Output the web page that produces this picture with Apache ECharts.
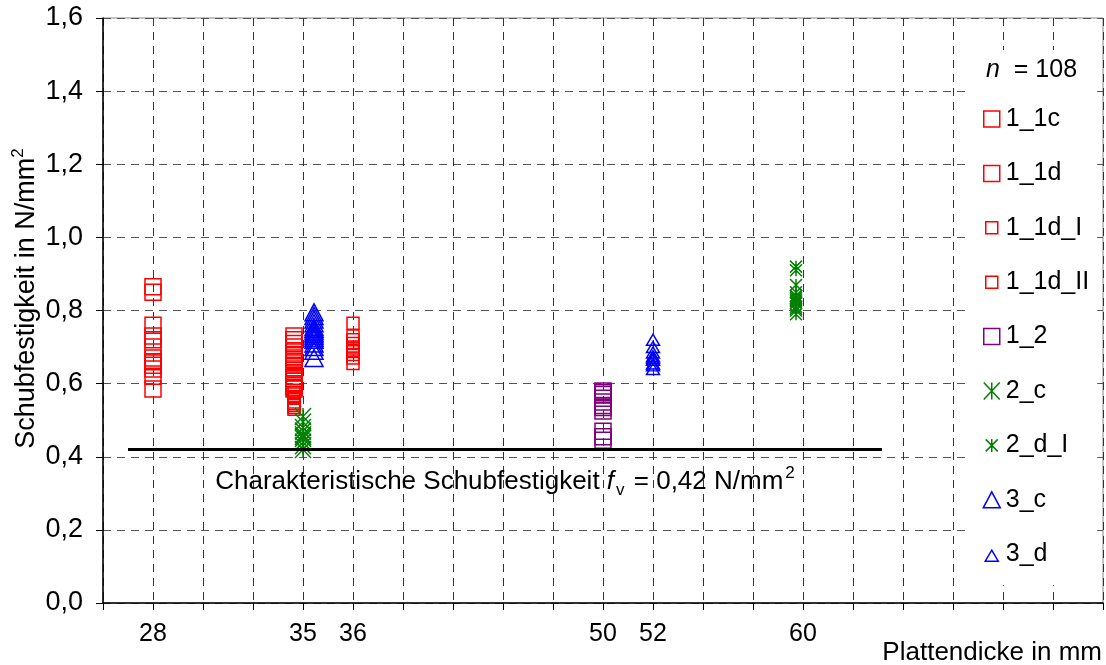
<!DOCTYPE html>
<html><head><meta charset="utf-8">
<script src="https://cdn.jsdelivr.net/npm/echarts@6/dist/echarts.min.js"></script>
<style>html,body{margin:0;padding:0;background:#fff}#c{width:1106px;height:665px}</style>
</head><body><div id="c"></div>
<script>
// ---- data ----
const tickLabels = ['', '28', '', '', '35', '36', '', '', '', '', '50', '52', '', '', '60', '', '', '', '', '', ''];
const yTicks = [0, 0.2, 0.4, 0.6, 0.8, 1.0, 1.2, 1.4, 1.6];
const seriesNames = ['1_1c', '1_1d', '1_1d_I', '1_1d_II', '1_2', '2_c', '2_d_I', '3_c', '3_d'];
const seriesX = [1, 3.82, 3.82, 5, 10, 4, 13.86, 4.22, 11];
const v1_1c = [0.865, 0.85, 0.76, 0.73, 0.72, 0.70, 0.67, 0.66, 0.65, 0.64, 0.62, 0.585];
const v1_1d = [0.73, 0.72, 0.71, 0.70, 0.69, 0.68, 0.67, 0.665, 0.66, 0.65, 0.64, 0.63, 0.62, 0.615, 0.61, 0.60, 0.595, 0.59, 0.585];
const v1_1d_I = [0.575, 0.565, 0.56, 0.55, 0.545, 0.54, 0.535, 0.53];
const v1_1d_II = [0.765, 0.73, 0.72, 0.71, 0.70, 0.695, 0.69, 0.68, 0.67, 0.655];
const v1_2 = [0.58, 0.575, 0.57, 0.56, 0.55, 0.54, 0.535, 0.525, 0.47, 0.455, 0.445];
const v2_c = [0.51, 0.495, 0.48, 0.47, 0.46, 0.455, 0.45, 0.44, 0.43, 0.42];
const v2_d_I = [0.92, 0.91, 0.87, 0.85, 0.84, 0.835, 0.83, 0.825, 0.82, 0.81, 0.805, 0.80, 0.79];
const v3_c = [0.795, 0.785, 0.775, 0.765, 0.755, 0.75, 0.745, 0.74, 0.735, 0.73, 0.725, 0.72, 0.71, 0.70, 0.69, 0.67];
const v3_d = [0.72, 0.70, 0.685, 0.675, 0.67, 0.665, 0.655, 0.65, 0.64];
const sampleSize = 108;
const fvValue = 0.42;
const fvFrom = 0.5;
const fvTo = 15.58;
const valueLists = [v1_1c, v1_1d, v1_1d_I, v1_1d_II, v1_2, v2_c, v2_d_I, v3_c, v3_d];

// ---- styles ----
const FONT = 'Liberation Sans, Arial, sans-serif';
const starPath = 'path://M0,0L16,17M16,0L0,17M8,0L8,17';
const icons = {
  sqBig: 'path://M0,0M18,18M1,1L17,1L17,17L1,17Z',
  sqSmall: 'path://M0,0M18,18M3,3L15,3L15,15L3,15Z',
  triBig: 'path://M0,0M18,18M9,1L17.5,17L0.5,17Z',
  triSmall: 'path://M0,0M18,18M9,5L15.5,16L2.5,16Z',
  starBig: 'path://M0,0M18,18M1,0.5L17,17.5M17,0.5L1,17.5M9,0.5L9,17.5',
  starSmall: 'path://M0,0M18,18M3,3L15,15M15,3L3,15M9,2.5L9,15.5'
};
const styles = [
  { color: '#ff0000', symbol: 'rect', size: 16, icon: icons.sqBig },
  { color: '#ff0000', symbol: 'rect', size: 16, icon: icons.sqBig },
  { color: '#ff0000', symbol: 'rect', size: 12, icon: icons.sqSmall },
  { color: '#ff0000', symbol: 'rect', size: 12, icon: icons.sqSmall },
  { color: '#800080', symbol: 'rect', size: 16, icon: icons.sqBig },
  { color: '#008000', symbol: starPath, size: [16, 17], icon: icons.starBig },
  { color: '#008000', symbol: starPath, size: [12, 12], icon: icons.starSmall },
  { color: '#0000ff', symbol: 'triangle', size: [18, 17], icon: icons.triBig },
  { color: '#0000ff', symbol: 'triangle', size: [13, 11], icon: icons.triSmall }
];

const chart = echarts.init(document.getElementById('c'), null, { renderer: 'canvas' });

const series = [{
  name: 'fv', type: 'line', data: [], silent: true, z: 1,
  markLine: {
    silent: true, symbol: ['none', 'none'],
    lineStyle: { color: '#000', width: 3, type: 'solid' },
    emphasis: { disabled: true },
    label: {
      show: true, position: 'insideMiddleBottom', distance: 15,
      formatter: 'Charakteristische Schubfestigkeit {i|f}{sub|v} = ' + fvValue.toFixed(2).replace('.', ',') + ' N/mm{sup|2}',
      color: '#000', fontSize: 26, fontFamily: FONT, lineHeight: 34,
      rich: {
        i: { fontStyle: 'italic', fontSize: 26, fontFamily: FONT, color: '#000', lineHeight: 34 },
        sub: { fontSize: 17, fontFamily: FONT, color: '#000', verticalAlign: 'bottom', lineHeight: 17, padding: [0, 2, 0, 2] },
        sup: { fontSize: 17, fontFamily: FONT, color: '#000', verticalAlign: 'top', lineHeight: 17, padding: [0, 0, 0, 2] }
      }
    },
    data: [[{ coord: [fvFrom, fvValue] }, { coord: [fvTo, fvValue] }]]
  }
}].concat(seriesNames.map((name, i) => ({
  name, type: 'scatter', z: 3,
  symbol: styles[i].symbol, symbolSize: styles[i].size,
  data: valueLists[i].map(v => [seriesX[i], v]),
  itemStyle: { color: 'rgba(0,0,0,0)', borderColor: styles[i].color, borderWidth: 1.5, opacity: 1 },
  emphasis: { disabled: true }
})));

chart.setOption({
  animation: false,
  backgroundColor: '#fff',
  textStyle: { fontFamily: FONT },
  grid: { left: 103, right: 3, top: 18, bottom: 62, show: true, borderColor: '#888', borderWidth: 1, containLabel: false, outerBoundsMode: 'none' },
  title: {
    text: '{i|n}  = ' + sampleSize, left: 986, top: 58, padding: 0, z: 10,
    textStyle: { fontSize: 25, fontWeight: 'normal', color: '#000', fontFamily: FONT,
      rich: { i: { fontStyle: 'italic', fontSize: 25, color: '#000', fontFamily: FONT } } }
  },
  legend: {
    data: seriesNames.map((n, i) => ({ name: n, icon: styles[i].icon })),
    orient: 'vertical', left: 966, top: 50, padding: [55, 8, 17, 16],
    itemGap: 26.4, itemWidth: 18, itemHeight: 18, backgroundColor: '#fff',
    selectedMode: false,
    itemStyle: { borderWidth: 1.5 },
    textStyle: { fontSize: 25, fontFamily: FONT, color: '#000', lineHeight: 28 }
  },
  xAxis: {
    type: 'value', min: 0, max: tickLabels.length - 1, interval: 1,
    axisLine: { show: true, onZero: false, lineStyle: { color: '#000', width: 1.5 } },
    axisTick: { show: true, length: 7, lineStyle: { color: '#000', width: 1 } },
    axisLabel: { formatter: v => tickLabels[Math.round(v)] || '', fontSize: 25, color: '#000', margin: 19, fontFamily: FONT },
    splitLine: { show: true, lineStyle: { type: [8, 6], color: '#333', width: 1 } },
    name: 'Plattendicke in mm', nameLocation: 'end', nameGap: -1, nameMoveOverlap: false,
    nameTextStyle: { align: 'right', verticalAlign: 'top', padding: [37, 0, 0, 0], fontSize: 26, color: '#000', fontFamily: FONT }
  },
  yAxis: {
    type: 'value', min: yTicks[0], max: yTicks[yTicks.length - 1], interval: 0.2,
    axisLine: { show: true, lineStyle: { color: '#000', width: 1.5 } },
    axisTick: { show: true, length: 7, lineStyle: { color: '#000', width: 1 } },
    axisLabel: { formatter: v => v.toFixed(1).replace('.', ','), fontSize: 27, color: '#000', margin: 20, fontFamily: FONT },
    splitLine: { show: true, lineStyle: { type: [8, 6], color: '#555', width: 1 } },
    name: 'Schubfestigkeit in N/mm{sup|2}', nameLocation: 'middle', nameGap: 59, nameRotate: 90, nameMoveOverlap: false,
    nameTextStyle: { fontSize: 27, color: '#000', fontFamily: FONT, lineHeight: 34, padding: [0, 0, 0, 24],
      rich: { sup: { fontSize: 17, color: '#000', fontFamily: FONT, verticalAlign: 'top', lineHeight: 17 } } }
  },
  series
});
</script>
</body></html>
